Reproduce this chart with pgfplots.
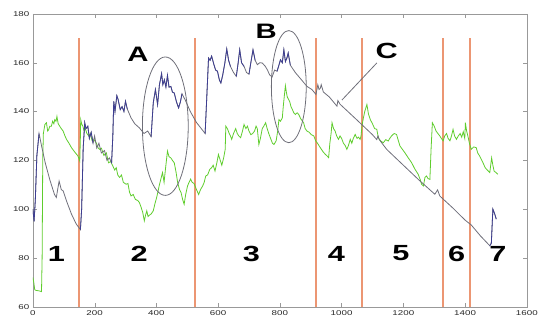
\documentclass[border=0pt]{standalone}
\usepackage{fontspec}
\setmainfont{Liberation Sans}[FakeStretch=1.4]
\usepackage{pgfplots}
\pgfplotsset{compat=1.18}
\definecolor{darkline}{RGB}{110,110,122}
\definecolor{blueline}{RGB}{62,62,145}
\definecolor{greenline}{RGB}{95,205,45}
\definecolor{orangeline}{RGB}{236,150,115}
\definecolor{ellc}{RGB}{110,110,120}
\begin{document}
\begin{tikzpicture}
\begin{axis}[
  width=496pt, height=294pt, scale only axis,
  xmin=0, xmax=1600, ymin=60, ymax=180,
  xtick={0,200,...,1600}, ytick={60,80,...,180},
  tick align=inside, major tick length=4pt,
  axis line style={draw=gray!80},
  tick style={draw=gray!80},
  /pgf/number format/assume math mode=true,
  /pgf/number format/1000 sep={},
  tick label style={font=\fontsize{7}{8}\selectfont, text=black!85},
  clip=true,
]
% region separators
\addplot[draw=orangeline, line width=2pt] coordinates {(151,60)(151,170)};
\addplot[draw=orangeline, line width=2pt] coordinates {(525,60)(525,170)};
\addplot[draw=orangeline, line width=2pt] coordinates {(918,60)(918,170)};
\addplot[draw=orangeline, line width=2pt] coordinates {(1066,60)(1066,170)};
\addplot[draw=orangeline, line width=2pt] coordinates {(1330,60)(1330,170)};
\addplot[draw=orangeline, line width=2pt] coordinates {(1417,60)(1417,170)};
% green series
\addplot[greenline, line width=0.8pt] coordinates {
(0,72)(3,70)(6,67)(10,66.7)(20,66.5)(28,66.2)(30,80)(32,120)(34,131)(39,134.7)(44,135.4)(48,132)(51,132.5)(55,134)(60,134)(64,136)(68,135)(71,136.7)(75,136)(78,138)(82,135)(87,134)(92,133)(98,132)(104,130)(109,128.6)(117,127)(125,125.2)(135,123.5)(146,121.8)(152,119.7)(154,130)(155,136.7)(158,135)(162,134)(166,132)(170,133)(175,131)(181,130)(186,131)(192,128)(198,128.5)(205,127.2)(212,125)(216,124.5)(222,125)(230,122)(238,123.1)(245,119)(252,119.5)(259,117.7)(265,116)(270,117)(275,114)(281,113)(287,114)(293,111)(302,110.2)(308,110.5)(313,107)(318,105.4)(325,106)(332,104)(340,103.5)(345,102.7)(350,101)(356,98.6)(361,95.2)(365,97.5)(369,99.3)(373,97)(377,97.5)(383,98)(390,99.3)(395,102)(401,104.8)(405,107)(409,109.5)(414,112)(420,115)(425,111)(430,117)(436,123.8)(441,121.5)(447,121)(452,120)(458,119)(464,115)(469,110.9)(475,108)(480,106.8)(485,104)(490,102)(495,106)(501,109.5)(506,111)(511,112.3)(516,111)(522,110.5)(530,108)(537,106)(543,108)(550,109.5)(555,111)(560,113.6)(566,114)(573,116.3)(579,117)(584,118)(590,115.6)(596,119)(601,122.4)(607,120)(612,118)(618,121)(623,124.5)(625,134)(630,133)(636,131)(640,130)(644,128.6)(650,131)(657,133)(662,131)(667,130)(673,129.3)(679,132)(684,134.7)(690,133)(695,134)(700,132)(706,130.5)(712,131)(718,132)(723,134)(727,133)(732,126.5)(737,129)(743,133)(748,134)(754,135.4)(759,133)(764,131)(770,129)(776,127)(781,126.5)(788,128)(793,132)(797,136.7)(802,136)(808,137.4)(811,142)(815,147)(818,150.6)(821,148)(824,146)(828,145)(832,144)(836,142)(840,141)(845,139.5)(850,138.8)(856,139.5)(861,138.8)(868,137)(877,135.4)(882,133)(888,132)(895,131.5)(902,130.5)(910,130)(916,128)(922,127)(931,125.2)(940,123.5)(947,122.5)(953,121.8)(958,121.1)(962,127)(966,131)(969,135.4)(974,133)(979,132)(984,130)(990,128.6)(995,130)(1000,129)(1006,127)(1012,126)(1017,124.5)(1022,126)(1028,128.6)(1033,127)(1038,129)(1044,130.6)(1050,129)(1055,129.5)(1060,128.6)(1063,130)(1066,134)(1070,137)(1075,140)(1082,142.9)(1087,139)(1093,136.7)(1100,135)(1107,133)(1114,132.7)(1119,129.3)(1126,128)(1135,127.2)(1143,128.5)(1151,127.9)(1156,129)(1162,130)(1170,131)(1178,130.6)(1184,128)(1189,125.9)(1197,124.5)(1205,123.1)(1216,121)(1227,119)(1237,116.5)(1248,114.3)(1255,112)(1259,110.2)(1265,109.5)(1270,113)(1275,113.6)(1280,112.5)(1286,112.2)(1290,125)(1294,135.4)(1300,134)(1306,132)(1312,131)(1318,130)(1323,129)(1329,128)(1334,130)(1340,131)(1345,129)(1351,128)(1356,130)(1361,132.7)(1366,130)(1372,128.6)(1378,130)(1384,131)(1389,129.5)(1394,131.7)(1399,129)(1401,135.4)(1405,132)(1409,130)(1414,127)(1420,124.5)(1428,125.5)(1436,125.2)(1441,123)(1447,121.8)(1452,120.5)(1458,119)(1465,117)(1472,116)(1480,115)(1486,121)(1490,118)(1494,115.6)(1500,115)(1506,114.3)
};
% dark series (base)
\addplot[darkline, line width=0.8pt] coordinates {
(0,100)(4,95)(8,104)(13,122)(20,131)(28,126)(40,119)(55,112)(70,106)(76,104.8)(85,111.5)(92,108)(98,107.5)(110,103)(125,98)(140,94)(154,91.6)(158,100)(163,125)(168,135.4)(172,133)(178,134)(183,129)(189,131.5)(195,127)(200,130)(207,125)(214,127)(222,123)(232,124)(240,120)(248,121)(255,119)(259,130)(262,144.2)(266,140)(272,146.5)(276,145)(283,140.8)(289,142)(295,140)(300,144.2)(306,141)(318,137.4)(330,135)(345,133.3)(360,131)(372,132)(383,129.7)(390,143.6)(397,149)(404,142.9)(410,151)(417,155.5)(421,151)(426,153)(431,150)(436,154.8)(441,150)(447,150.3)(452,148)(458,147.6)(465,144)(472,141.5)(478,144)(483,147.3)(494,144.6)(510,140)(530,135.5)(558,131)(563,145)(569,161.9)(574,161)(579,162.7)(587,159)(592,157)(598,156.5)(604,153)(609,151.7)(615,155)(622,160)(628,165.6)(634,161)(640,158.5)(650,156)(659,154.4)(665,160)(670,165.3)(676,160)(684,158.5)(692,156)(700,155.3)(706,160)(713,165.3)(720,161)(727,159.2)(735,160)(743,159.9)(753,158.5)(760,157)(767,155)(775,154.2)(783,157)(791,156.5)(797,159)(802,161.2)(808,160)(813,165.3)(818,160.5)(823,162)(827,164)(834,159)(850,156)(870,153)(888,150.3)(904,149)(917,147)(923,151)(927,149)(931,149.5)(934,151)(941,148)(960,146)(985,142.2)(988,144.5)(995,143)(1050,136.5)(1100,130.5)(1114,128.5)(1118,130)(1122,128.5)(1146,124.5)(1200,118)(1250,112)(1302,106.1)(1311,107.9)(1318,105.4)(1360,100.5)(1400,95.5)(1420,93.5)(1450,89)(1480,85)(1485,86)(1490,100)(1496,98)(1501,95.9)
};
% dark series, blue portions
\addplot[blueline, line width=0.8pt] coordinates {(0,100)(4,95)(8,104)(13,122)(20,131)};
\addplot[blueline, line width=0.8pt] coordinates {(154,91.6)(158,100)(163,125)(168,135.4)(172,133)(178,134)(183,129)(189,131.5)(195,127)};
\addplot[blueline, line width=0.8pt] coordinates {(255,119)(259,130)(262,144.2)(266,140)(272,146.5)(276,145)(283,140.8)(289,142)(295,140)(300,144.2)(306,141)};
\addplot[blueline, line width=0.8pt] coordinates {(383,129.7)(390,143.6)(397,149)(404,142.9)(410,151)(417,155.5)(421,151)(426,153)(431,150)(436,154.8)(441,150)(447,150.3)(452,148)(458,147.6)(465,144)(472,141.5)(478,144)(483,147.3)};
\addplot[blueline, line width=0.8pt] coordinates {(558,131)(563,145)(569,161.9)(574,161)(579,162.7)(587,159)(592,157)(598,156.5)(604,153)(609,151.7)(615,155)(622,160)(628,165.6)(634,161)(640,158.5)};
\addplot[blueline, line width=0.8pt] coordinates {(659,154.4)(665,160)(670,165.3)(676,160)(684,158.5)};
\addplot[blueline, line width=0.8pt] coordinates {(700,155.3)(706,160)(713,165.3)(720,161)};
\addplot[blueline, line width=0.8pt] coordinates {(791,156.5)(797,159)(802,161.2)(808,160)(813,165.3)(818,160.5)(823,162)(827,164)(834,159)};
\addplot[blueline, line width=0.8pt] coordinates {(1480,85)(1485,86)(1490,100)(1496,98)(1501,95.9)};
% annotations
\draw[ellc, line width=0.8pt] (axis cs:429,134) ellipse [x radius=23pt, y radius=69.5pt];
\draw[ellc, line width=0.8pt] (axis cs:829,150.2) ellipse [x radius=17.5pt, y radius=56.3pt];
\draw[ellc, line width=0.8pt] (axis cs:1114,159.9) -- (axis cs:1001,144.7);
\node[font=\fontsize{21}{21}\bfseries\selectfont] at (axis cs:340,163.6) {A};
\node[font=\fontsize{21}{21}\bfseries\selectfont] at (axis cs:756,172.9) {B};
\node[font=\fontsize{22}{22}\bfseries\selectfont] at (axis cs:1146,164.9) {C};
\node[font=\fontsize{22}{22}\bfseries\selectfont] at (axis cs:76,81.8) {1};
\node[font=\fontsize{22}{22}\bfseries\selectfont] at (axis cs:344,81.8) {2};
\node[font=\fontsize{22}{22}\bfseries\selectfont] at (axis cs:708,81.8) {3};
\node[font=\fontsize{22}{22}\bfseries\selectfont] at (axis cs:983,81.8) {4};
\node[font=\fontsize{22}{22}\bfseries\selectfont] at (axis cs:1192,81.8) {5};
\node[font=\fontsize{22}{22}\bfseries\selectfont] at (axis cs:1373,81.8) {6};
\node[font=\fontsize{22}{22}\bfseries\selectfont] at (axis cs:1506,81.8) {7};
\end{axis}
\path ([shift={(-33pt,-12pt)}]current axis.south west) rectangle ([shift={(12pt,14pt)}]current axis.north east);
\end{tikzpicture}
\end{document}
